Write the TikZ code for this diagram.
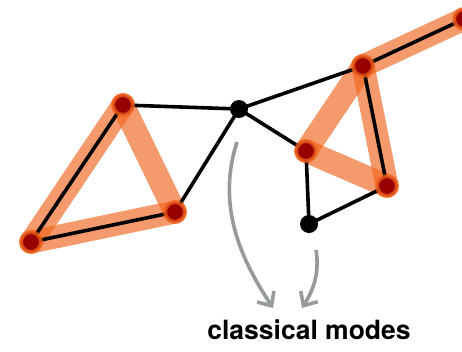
\documentclass[tikz,border=0pt]{standalone}
\usepackage{fontspec}
\setmainfont{TeX Gyre Heros}
\usetikzlibrary{arrows.meta}
\definecolor{bandorange}{RGB}{240,100,30}
\definecolor{modered}{RGB}{150,0,0}
\definecolor{arrowgray}{RGB}{150,155,150}

\begin{document}
\begin{tikzpicture}[x=1pt, y=-1pt,
    link/.style={black, line width=3.6pt},
    band/.style={bandorange, line width=23pt, opacity=0.65, line cap=round},
    mode/.style={circle, fill=modered, inner sep=0pt, minimum size=20pt,
        draw=bandorange, draw opacity=0.75, line width=4pt},
    hub/.style={circle, fill=black, inner sep=0pt, minimum size=18pt},
    flow/.style={arrowgray, line width=3.6pt, -{Straight Barb[length=11pt, width=20pt]}}]
    \useasboundingbox (0,0) rectangle (462,351);
    % The nodes of the network.
        \coordinate (a) at (123,105);
        \coordinate (b) at (31,242);
        \coordinate (c) at (175,212);
        \coordinate (d) at (239,109);
        \coordinate (e) at (306,151);
        \coordinate (f) at (363,66);
        \coordinate (g) at (387,186);
        \coordinate (h) at (309,224);
        \coordinate (i) at (464,19);
    % Orange bands mark the classical modes.
        \draw[band] (a) -- (b);
        \draw[band] (b) -- (c);
        \draw[band] (c) -- (a);
        \draw[band] (f) -- (e);
        \draw[band] (e) -- (g);
        \draw[band] (g) -- (f);
        \draw[band] (f) -- (i);
    % Black links between the nodes.
        \draw[link] (a) -- (d) -- (c) -- (b) -- (a);
        \draw[link] (d) -- (f) -- (g) -- (h) -- (e) -- (d);
        \draw[link] (f) -- (i);
    % Below nodes are drawn over the links.
        \foreach \p in {a,b,c,e,f,g,i}
            \node[mode] (n\p) at (\p) {};
        \node[hub] (nd) at (d) {};
        \node[hub] (nh) at (h) {};
    % The label and its arrows.
        \node[font=\fontsize{26.5}{30}\selectfont\bfseries] (label) at (309,330) {classical modes};
        \coordinate (s1) at (237,142);
        \coordinate (t1) at (273,308);
        \coordinate (s2) at (316,250);
        \coordinate (t2) at (302,308);
        \draw[flow] (s1) .. controls (215,210) and (245,265) .. (t1);
        \draw[flow] (s2) .. controls (320,275) and (312,292) .. (t2);
\end{tikzpicture}
\end{document}
